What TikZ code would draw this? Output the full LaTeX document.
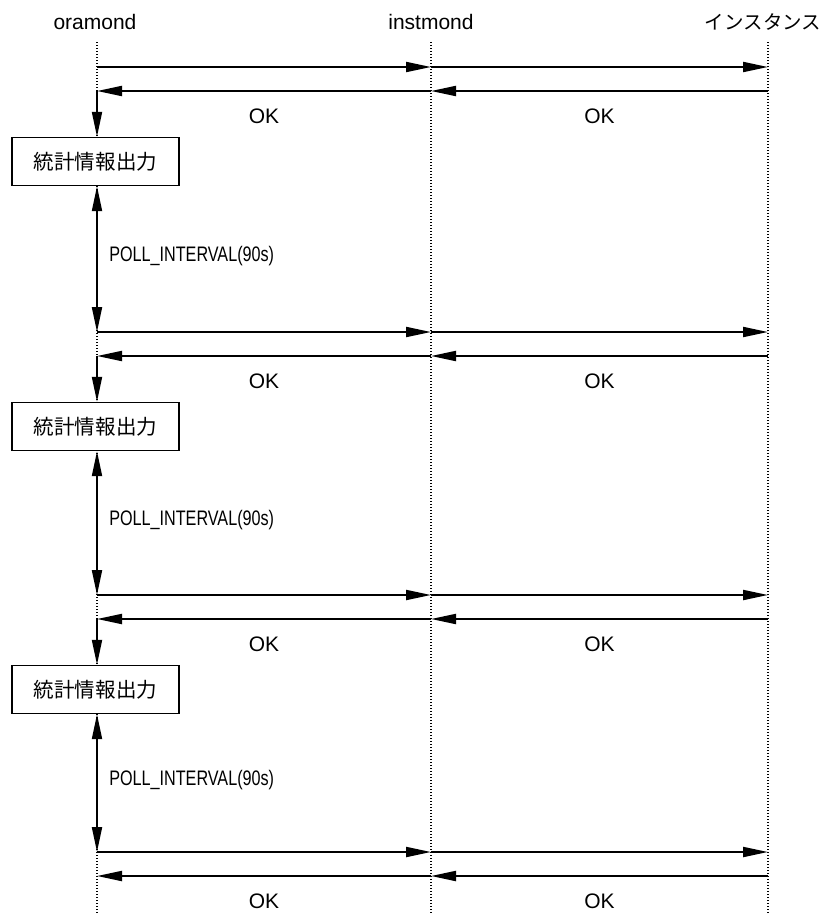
\documentclass[tikz,border=0pt]{standalone}
\usepackage{fontspec}
\setmainfont{Liberation Sans}
\newfontfamily\narrowfont[FakeStretch=0.77]{Liberation Sans}
\newfontfamily\jpfont{Noto Sans CJK JP}
\usetikzlibrary{positioning, arrows.meta}

\begin{document}
\begin{tikzpicture}[x=0.75pt, y=-0.75pt,
  lbl/.style={font=\fontsize{15.75pt}{18pt}\selectfont, inner sep=0pt},
  polllbl/.style={font=\narrowfont\fontsize{15.75pt}{18pt}\selectfont, inner sep=0pt},
  jplbl/.style={font=\jpfont\fontsize{14.6pt}{17pt}\selectfont, inner sep=0pt},
  lifeline/.style={dash pattern=on 0.9pt off 1.35pt, line width=0.9pt},
  msg/.style={-{Triangle[length=18.75pt, width=7.5pt]}, line width=1.5pt},
  both/.style={{Triangle[length=18.75pt, width=7.5pt]}-{Triangle[length=18.75pt, width=7.5pt]}, line width=1.5pt},
  statbox/.style={draw, fill=white, line width=1.1pt, minimum width=125pt, minimum height=36pt,
    inner sep=0pt, font=\jpfont\fontsize{15.4pt}{18pt}\selectfont}]
  \useasboundingbox (0,0) rectangle (822,915);

  % participants
  \node[lbl] (ora) at (95,22) {oramond};
  \node[lbl] (inst) at (431,22) {instmond};
  \node[jplbl] (ins) at (763,22) {インスタンス};
  \coordinate (oraTop) at (97,42);
  \coordinate (oraBot) at (97,915);
  \coordinate (instTop) at (431,42);
  \coordinate (instBot) at (431,915);
  \coordinate (insTop) at (768,42);
  \coordinate (insBot) at (768,915);
  \draw[lifeline] (oraTop) -- (oraBot);
  \draw[lifeline] (instTop) -- (instBot);
  \draw[lifeline] (insTop) -- (insBot);

  % request / reply
  \foreach \i/\req in {1/67, 2/332, 3/595, 4/852} {
    \coordinate (oq\i) at (97,\req);
    \coordinate (mq\i) at (431,\req);
    \coordinate (iq\i) at (768,\req);
    \coordinate (or\i) at (97,\req+24);
    \coordinate (mr\i) at (431,\req+24);
    \coordinate (ir\i) at (768,\req+24);
    \draw[msg] (oq\i) -- (mq\i);
    \draw[msg] (mq\i) -- (iq\i);
    \draw[msg] (ir\i) -- node[lbl, yshift=-19pt] {OK} (mr\i);
    \draw[msg] (mr\i) -- node[lbl, yshift=-19pt] {OK} (or\i);
  }

  % statistics output
  \foreach \i/\j/\req in {1/2/67, 2/3/332, 3/4/595} {
    \node[statbox] (stat\i) at (95.5,\req+94.5) {統計情報出力};
    \draw[msg] (or\i) -- (or\i |- stat\i.north);
    \draw[both] (oq\i |- stat\i.south) -- node[polllbl, right=8.5pt, yshift=2pt] {POLL\_INTERVAL(90s)} (oq\j);
  }
\end{tikzpicture}
\end{document}
